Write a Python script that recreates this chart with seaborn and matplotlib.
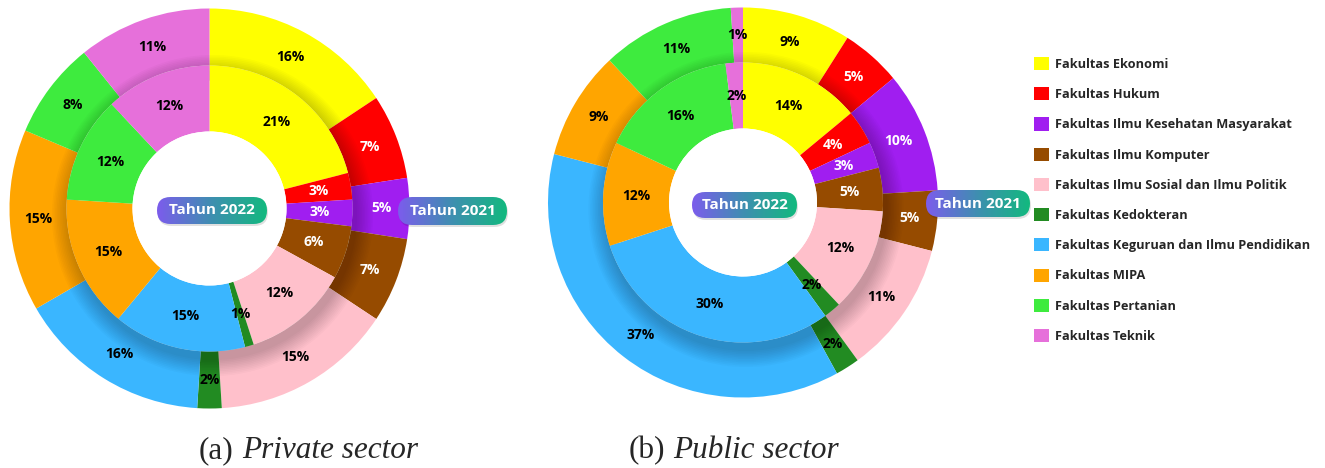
import numpy as np
import matplotlib.pyplot as plt
import seaborn as sns
from matplotlib.patches import FancyBboxPatch, Wedge, Patch
from matplotlib.colors import LinearSegmentedColormap

# data (persen per fakultas)
fakultas = ["Fakultas Ekonomi", "Fakultas Hukum", "Fakultas Ilmu Kesehatan Masyarakat",
            "Fakultas Ilmu Komputer", "Fakultas Ilmu Sosial dan Ilmu Politik",
            "Fakultas Kedokteran", "Fakultas Keguruan dan Ilmu Pendidikan",
            "Fakultas MIPA", "Fakultas Pertanian", "Fakultas Teknik"]
warna_hex = ["#FFFF00", "#FF0000", "#A01EF0", "#964B00", "#FFC0CB",
             "#228B22", "#3AB6FF", "#FFA500", "#3EEB3E", "#E670DA"]

swasta_2022 = [21, 3, 3, 6, 12, 1, 15, 15, 12, 12]
swasta_2021 = [16, 7, 5, 7, 15, 2, 16, 15, 8, 11]
negeri_2022 = [14, 4, 3, 5, 12, 2, 30, 12, 16, 2]
negeri_2021 = [9, 5, 10, 5, 11, 2, 37, 9, 11, 1]
teks_putih = [1, 2, 3]   # Hukum, IKM, Komputer pakai label putih

sns.set_style("white")
plt.rcParams['font.family'] = ['Open Sans', 'DejaVu Sans']
warna = sns.color_palette(warna_hex)

W, H = 1325, 468
fig = plt.figure(figsize=(W / 100, H / 100), dpi=100)
ax = fig.add_axes([0, 0, 1, 1])

gradasi = LinearSegmentedColormap.from_list("pil", ["#7C5CEC", "#3E8FB0", "#12B97E"])


def cincin(cx, cy, r_luar, r_dalam, data, z):
    wedges, _ = ax.pie(data, colors=warna, radius=r_luar, center=(cx, cy),
                       startangle=90, counterclock=False,
                       wedgeprops=dict(width=r_luar - r_dalam, linewidth=0, zorder=z))
    r_teks = (r_luar + r_dalam) / 2
    for i, (w, v) in enumerate(zip(wedges, data)):
        sudut = np.deg2rad((w.theta1 + w.theta2) / 2)
        ax.text(cx + r_teks * np.cos(sudut), cy + r_teks * np.sin(sudut), f"{v}%",
                ha="center", va="center", fontsize=10, fontweight="bold",
                color="white" if i in teks_putih else "black", zorder=z + 1)


def pil(cx, cy, lebar, tinggi, teks):
    x0, y0 = cx - lebar / 2, cy - tinggi / 2
    bayang = FancyBboxPatch((x0 + 1, y0 - 2), lebar, tinggi,
                            boxstyle=f"round,pad=0,rounding_size={tinggi / 2}",
                            fc="black", ec="none", alpha=0.12, zorder=20)
    ax.add_patch(bayang)
    kotak = FancyBboxPatch((x0, y0), lebar, tinggi,
                           boxstyle=f"round,pad=0,rounding_size={tinggi / 2}",
                           fc="none", ec="none", zorder=21)
    ax.add_patch(kotak)
    im = ax.imshow(np.linspace(0, 1, 256).reshape(1, -1), cmap=gradasi, aspect="auto",
                   extent=[x0, x0 + lebar, y0, y0 + tinggi], zorder=21)
    im.set_clip_path(kotak)
    ax.text(cx, cy, teks, ha="center", va="center", color="white",
            fontsize=11, fontweight="bold", zorder=22)


def donat(cx, cy, r_luar, r_tengah, r_lubang, data_luar, data_dalam):
    cy = H - cy
    cincin(cx, cy, r_luar, r_tengah, data_luar, 2)
    # bayangan lembut cincin dalam di atas cincin luar
    for k in range(1, 12):
        ax.add_patch(Wedge((cx + 3, cy - 7), r_tengah + k * 1.6, 0, 360, width=k * 1.6 + 8,
                           fc="black", ec="none", alpha=0.02, zorder=4))
    cincin(cx, cy, r_tengah, r_lubang, data_dalam, 6)
    ax.add_patch(Wedge((cx, cy), r_lubang, 0, 360, fc="white", ec="none", zorder=8))


donat(209.5, 208.5, 200, 143, 77, swasta_2021, swasta_2022)
donat(743, 202.5, 195, 140, 74, negeri_2021, negeri_2022)

pil(212, H - 210.5, 110, 27, "Tahun 2022")
pil(452.5, H - 211, 109, 28, "Tahun 2021")
pil(744.5, H - 205, 105, 26, "Tahun 2022")
pil(978, H - 203.5, 104, 27, "Tahun 2021")

# legenda
handles = [Patch(facecolor=c, edgecolor="none", label=n) for n, c in zip(fakultas, warna)]
ax.legend(handles=handles, loc="upper left", bbox_to_anchor=(1034 / W, 1 - 57 / H),
          frameon=False, borderpad=0, borderaxespad=0, handlelength=1.2, handleheight=1.2,
          handletextpad=0.45, labelspacing=1.28, prop=dict(family="Open Sans", weight="bold", size=9.2))

# keterangan
serif = ["Liberation Serif", "DejaVu Serif"]
ax.text(233, H - 458, "(a)", ha="right", va="baseline", fontsize=22.5, family=serif)
ax.text(242, H - 458, "Private sector", ha="left", va="baseline", fontsize=22.5,
        family=serif, style="italic")
ax.text(665, H - 458, "(b)", ha="right", va="baseline", fontsize=22.5, family=serif)
ax.text(673, H - 458, "Public sector", ha="left", va="baseline", fontsize=22.5,
        family=serif, style="italic")

ax.set_xlim(0, W)
ax.set_ylim(0, H)
ax.set_aspect("equal")
ax.axis("off")
fig.savefig("out.png", dpi=100, facecolor="white")
